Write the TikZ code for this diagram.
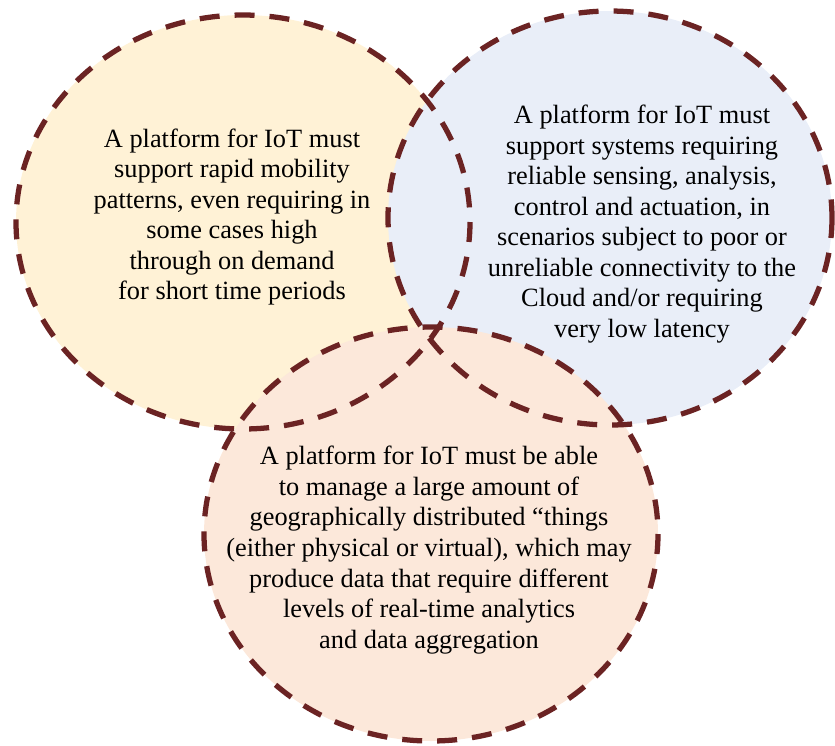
\documentclass[tikz,border=0pt]{standalone}
\usepackage{fontspec}
\setmainfont{Liberation Serif}
\definecolor{ringcol}{RGB}{107,35,35}
\definecolor{mobfill}{RGB}{255,242,214}
\definecolor{relfill}{RGB}{233,238,248}
\definecolor{thingfill}{RGB}{252,232,218}
\tikzset{
  ring/.style={draw=ringcol, line width=3pt, dash pattern=on 0.4cm off 0.3cm},
  ringtext/.style={align=center, inner sep=0pt, font=\fontsize{15}{17.4}\selectfont}
}
\begin{document}
\begin{tikzpicture}[x=0.02cm, y=-0.02cm]
  \useasboundingbox (0,0) rectangle (835,745);
  % fill the three areas
  \fill[mobfill] (243,222) ellipse [x radius=227, y radius=207];
  \fill[relfill] (610,218) ellipse [x radius=222, y radius=207];
  \fill[thingfill] (431,534) ellipse [x radius=227, y radius=207];
  % dashed rims on top of all fills
  \draw[ring] (243,222) ellipse [x radius=227, y radius=207];
  \draw[ring] (610,218) ellipse [x radius=222, y radius=207];
  \draw[ring] (431,534) ellipse [x radius=227, y radius=207];
  % texts
  \node[ringtext] (mobility) at (232,217) {A platform for IoT must\\support rapid mobility\\patterns, even requiring in\\some cases high\\through on demand\\for short time periods};
  \node[ringtext] (reliable) at (642,224) {A platform for IoT must\\support systems requiring\\reliable sensing, analysis,\\control and actuation, in\\scenarios subject to poor or\\unreliable connectivity to the\\Cloud and/or requiring\\very low latency};
  \node[ringtext] (things) at (429,550) {A platform for IoT must be able\\to manage a large amount of\\geographically distributed “things\\(either physical or virtual), which may\\produce data that require different\\levels of real-time analytics\\and data aggregation};
\end{tikzpicture}
\end{document}
